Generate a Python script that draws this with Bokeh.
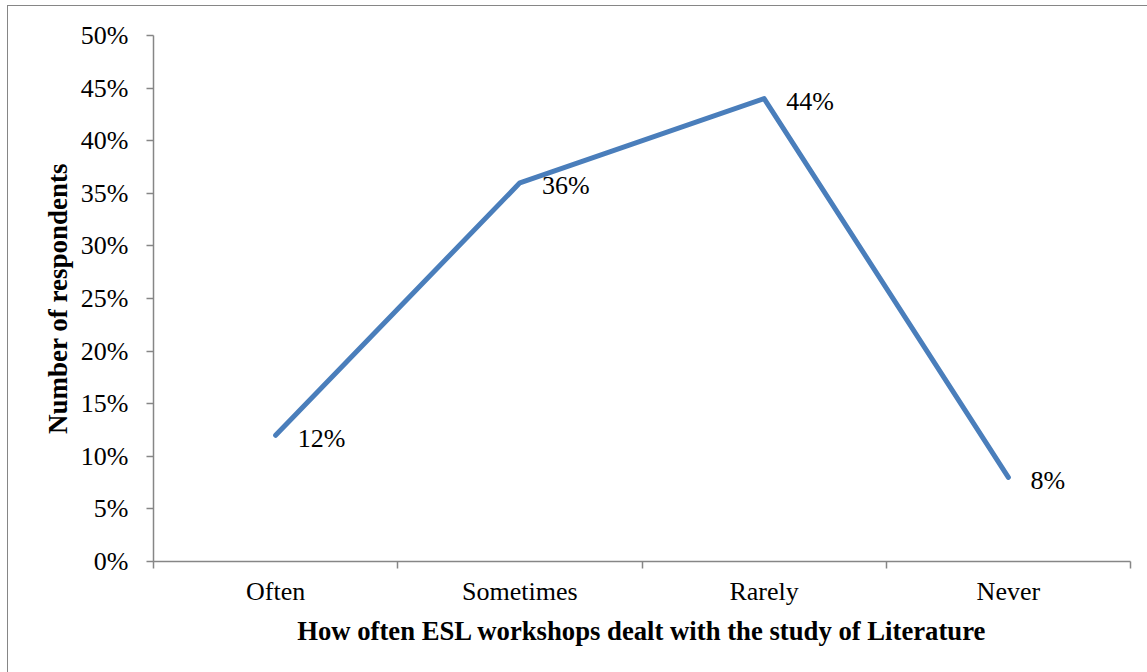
from bokeh.plotting import figure
from bokeh.models import Range1d, FixedTicker, ColumnDataSource, PrintfTickFormatter, LabelSet
from bokeh.embed import file_html
from bokeh.resources import INLINE

categories = ["Often", "Sometimes", "Rarely", "Never"]
percent_values = [12, 36, 44, 8]
y_ticks = [0, 5, 10, 15, 20, 25, 30, 35, 40, 45, 50]

FONT = "Liberation Serif"
AXIS_COLOR = "#868686"

xs = [i + 0.5 for i in range(len(categories))]
src = ColumnDataSource(dict(x=xs, y=percent_values,
                            lab=[f"{v}%" for v in percent_values]))

p = figure(width=1139, height=666, output_backend="svg", toolbar_location=None,
           x_range=Range1d(0, len(categories)), y_range=Range1d(0, 50),
           min_border_left=145, min_border_right=17, min_border_top=29, min_border_bottom=111)
p.margin = (6, 0, 0, 8)
p.styles = {"outline": "1.5px solid #868686"}
p.background_fill_color = "white"
p.border_fill_color = "white"
p.outline_line_color = None
p.grid.visible = False

p.line("x", "y", source=src, line_color="#4a7ebb", line_width=5, line_cap="round", line_join="round")
p.add_layout(LabelSet(x="x", y="y", text="lab", source=src, x_offset=22, y_offset=-3,
                      text_font=FONT, text_font_size="26px", text_align="left",
                      text_baseline="middle", text_color="black"))

# x axis
xa = p.xaxis[0]
xa.ticker = FixedTicker(ticks=xs, minor_ticks=list(range(len(categories) + 1)))
xa.major_label_overrides = {x: c for x, c in zip(xs, categories)}
xa.major_tick_out = 0
xa.major_tick_in = 0
xa.minor_tick_out = 7
xa.minor_tick_in = 0
xa.minor_tick_line_color = AXIS_COLOR
xa.minor_tick_line_width = 1.5
xa.axis_line_color = AXIS_COLOR
xa.axis_line_width = 1.5
xa.major_label_text_font = FONT
xa.major_label_text_font_size = "26px"
xa.major_label_text_color = "black"
xa.major_label_standoff = 8
xa.axis_label = "How often ESL workshops dealt with the study of Literature"
xa.axis_label_text_font = FONT
xa.axis_label_text_font_size = "26.7px"
xa.axis_label_text_font_style = "bold"
xa.axis_label_text_color = "black"
xa.axis_label_standoff = 7

# y axis
ya = p.yaxis[0]
ya.ticker = FixedTicker(ticks=y_ticks, minor_ticks=[])
ya.formatter = PrintfTickFormatter(format="%d%%")
ya.major_tick_out = 7
ya.major_tick_in = 0
ya.major_tick_line_color = AXIS_COLOR
ya.major_tick_line_width = 1.5
ya.axis_line_color = AXIS_COLOR
ya.axis_line_width = 1.5
ya.major_label_text_font = FONT
ya.major_label_text_font_size = "26px"
ya.major_label_text_color = "black"
ya.major_label_standoff = 18
ya.axis_label = "Number of respondents"
ya.axis_label_text_font = FONT
ya.axis_label_text_font_size = "27px"
ya.axis_label_text_font_style = "bold"
ya.axis_label_text_color = "black"
ya.axis_label_standoff = 5

open("out.html", "w").write(file_html(p, INLINE))
